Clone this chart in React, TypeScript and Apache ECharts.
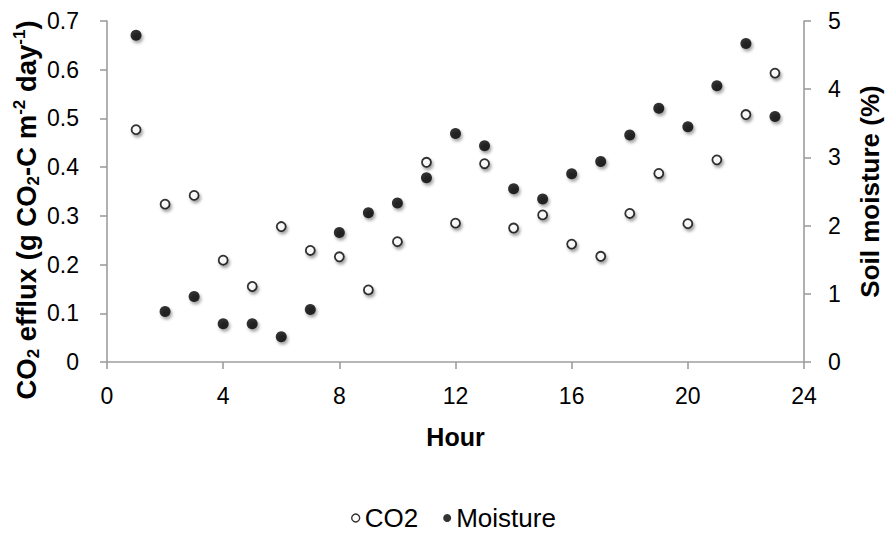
import React, { useEffect, useRef } from "react";
import * as echarts from "echarts";

const hours = [1, 2, 3, 4, 5, 6, 7, 8, 9, 10, 11, 12, 13, 14, 15, 16, 17, 18, 19, 20, 21, 22, 23];
const co2 = [0.477, 0.324, 0.342, 0.209, 0.155, 0.278, 0.229, 0.216, 0.148, 0.247, 0.41, 0.285, 0.407, 0.275, 0.302, 0.242, 0.217, 0.305, 0.387, 0.284, 0.415, 0.508, 0.593];
const moisture = [4.79, 0.74, 0.96, 0.56, 0.56, 0.37, 0.77, 1.9, 2.19, 2.33, 2.7, 3.35, 3.17, 2.54, 2.39, 2.76, 2.94, 3.33, 3.72, 3.45, 4.05, 4.67, 3.6];
const xTicks = { min: 0, max: 24, interval: 4 };
const leftTicks = { min: 0, max: 0.7, interval: 0.1 };
const rightTicks = { min: 0, max: 5, interval: 1 };

const FONT = "'Liberation Sans', Arial, sans-serif";
const AXIS_COLOR = "#9e9e9e";

export default function App() {
  const ref = useRef<HTMLDivElement>(null);
  useEffect(() => {
    document.body.style.margin = "0";
    const chart = echarts.init(ref.current!, undefined, { renderer: "svg" });
    const shadow = {
      shadowBlur: 3,
      shadowColor: "rgba(0,0,0,0.45)",
      shadowOffsetX: 1.5,
      shadowOffsetY: 2.5,
    };
    const noShadow = { shadowColor: "transparent", shadowBlur: 0, shadowOffsetX: 0, shadowOffsetY: 0 };
    const axisCommon = {
      axisLine: { show: true, lineStyle: { color: AXIS_COLOR, width: 1.6 } },
      axisTick: { show: true, length: 7, lineStyle: { color: AXIS_COLOR, width: 1.6 } },
      splitLine: { show: false },
      axisLabel: { color: "#000", fontSize: 23, fontFamily: FONT },
    };
    chart.setOption({
      animation: false,
      textStyle: { fontFamily: FONT },
      grid: { left: 107, right: 83, top: 21, bottom: 172 },
      legend: {
        left: 346,
        top: 500,
        itemWidth: 8,
        itemHeight: 8,
        itemGap: 25,
        textStyle: { color: "#000", fontSize: 26, fontFamily: FONT },
        data: [
          { name: "CO2", icon: "circle", itemStyle: { ...noShadow, borderWidth: 1.4 } },
          { name: "Moisture", icon: "circle", itemStyle: { ...noShadow } },
        ],
      },
      xAxis: {
        type: "value",
        ...xTicks,
        ...axisCommon,
        axisLabel: { ...axisCommon.axisLabel, margin: 22 },
        name: "Hour",
        nameLocation: "middle",
        nameGap: 62,
        nameTextStyle: { color: "#000", fontSize: 25, fontWeight: "bold", fontFamily: FONT },
      },
      yAxis: [
        {
          type: "value",
          ...leftTicks,
          ...axisCommon,
          axisLabel: { ...axisCommon.axisLabel, margin: 28 },
        },
        {
          type: "value",
          position: "right",
          ...rightTicks,
          ...axisCommon,
          axisLabel: { ...axisCommon.axisLabel, margin: 24 },
          name: "Soil moisture (%)",
          nameLocation: "middle",
          nameRotate: 90,
          nameGap: 53,
          nameTextStyle: { color: "#000", fontSize: 26, fontWeight: "bold", fontFamily: FONT },
        },
      ],
      graphic: [
        {
          type: "text",
          x: 26,
          y: 210,
          rotation: Math.PI / 2,
          style: {
            text: "{b|CO}{sub|2}{b| efflux (g CO}{sub|2}{b|-C m}{sup|-2}{b| day}{sup|-1}{b|)}",
            align: "center",
            verticalAlign: "middle",
            fill: "#000",
            rich: {
              b: { fontSize: 27.5, fontWeight: "bold", fontFamily: FONT, lineHeight: 31, fill: "#000" },
              sub: { fontSize: 17, fontWeight: "bold", fontFamily: FONT, lineHeight: 17, verticalAlign: "bottom", fill: "#000" },
              sup: { fontSize: 17, fontWeight: "bold", fontFamily: FONT, lineHeight: 17, verticalAlign: "top", fill: "#000" },
            },
          },
        },
      ],
      series: [
        {
          name: "CO2",
          type: "scatter",
          yAxisIndex: 0,
          symbol: "circle",
          symbolSize: 9,
          itemStyle: { color: "#fff", borderColor: "#000", borderWidth: 1.8, ...shadow },
          data: hours.map((h, i) => [h, co2[i]]),
        },
        {
          name: "Moisture",
          type: "scatter",
          yAxisIndex: 1,
          symbol: "circle",
          symbolSize: 11,
          itemStyle: { color: "#000", ...shadow },
          data: hours.map((h, i) => [h, moisture[i]]),
        },
      ],
    });
    return () => chart.dispose();
  }, []);
  return <div ref={ref} style={{ width: 891, height: 534 }} />;
}
